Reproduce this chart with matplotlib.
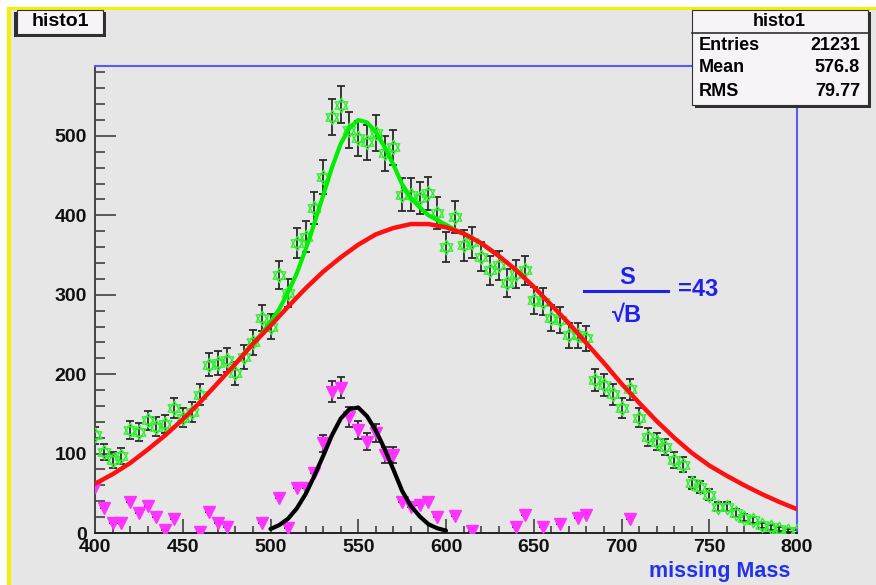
import numpy as np
import matplotlib
matplotlib.use('Agg')
import matplotlib.pyplot as plt
from matplotlib.path import Path
from matplotlib.patches import Rectangle
from matplotlib.lines import Line2D

plt.rcParams['font.family'] = ['Liberation Sans', 'DejaVu Sans']
plt.rcParams['font.weight'] = 'bold'

# histogram bins (width 5) and contents
bin_centers = np.arange(400, 801, 5)
data_counts = [123, 102, 92, 97, 130, 127, 142, 134, 137, 157,
               145, 152, 174, 212, 214, 218, 201, 222, 240, 271,
               260, 325, 302, 365, 373, 409, 448, 524, 539, 507,
               497, 492, 504, 478, 486, 426, 426, 422, 428, 403,
               360, 398, 362, 366, 348, 331, 337, 315, 326, 331,
               293, 291, 271, 268, 249, 249, 245, 193, 186, 175,
               157, 181, 145, 121, 115, 108, 92, 86, 63, 58,
               48, 33, 33, 25, 19, 16, 10, 7, 5, 3,
               2]
nan = np.nan
signal_counts = [58, 31, 13, 12, 39, 25, 34, 20, 4, 18,
                 nan, nan, 1, 26, 13, 8, nan, nan, nan, 12,
                 nan, 44, 6, 57, 57, 75, 113, 178, 183, 146,
                 130, 115, 126, 98, 98, 39, 33, 35, 39, 20,
                 nan, 21, nan, 3, nan, nan, nan, nan, 8, 23,
                 nan, 8, nan, 11, nan, 19, 23, nan, nan, nan,
                 nan, 18, nan, nan, nan, nan, nan, nan, nan, nan,
                 nan, nan, nan, nan, nan, nan, nan, nan, nan, nan,
                 nan]

# fit curves
bkg_x = np.arange(400, 801, 10)
bkg_y = [62, 74, 88, 105, 123, 143, 165, 189, 213, 238,
         261, 285, 308, 329, 347, 363, 376, 384, 389, 389,
         385, 377, 365, 349, 331, 310, 287, 264, 239, 214,
         188, 164, 141, 120, 101, 85, 72, 60, 49, 39, 30]
sig_x = np.arange(500, 601, 5)
sig_y = [5, 10, 18, 31, 49, 72, 97, 123, 144, 156, 158,
         147, 129, 106, 80, 53, 34, 21, 11, 6, 3]
tot_x = np.arange(480, 631, 5)
tot_y = [213, 226, 239, 251, 266, 282, 303, 327, 357, 390,
         425, 460, 490, 510, 520, 517, 505, 486, 464, 439,
         422, 410, 400, 394, 388, 382, 377, 371, 365, 357, 349]

stats = [('Entries', '21231'), ('Mean', '576.8'), ('RMS', '79.77')]

W, H = 876, 585
def fx(px):
    return px / W
def fy(py):
    return 1 - py / H

fig = plt.figure(figsize=(8.76, 5.85), dpi=100, facecolor='white')
# canvas: yellow highlight frame + grey pad
fig.patches.append(Rectangle((fx(7), 0), 1, fy(7), transform=fig.transFigure,
                             facecolor='#f5f000', edgecolor='none', zorder=-3))
fig.patches.append(Rectangle((fx(11), 0), 1, fy(10), transform=fig.transFigure,
                             facecolor='#e6e6e6', edgecolor='none', zorder=-2))

ax = fig.add_axes([fx(95), fy(533), fx(797) - fx(95), fy(66) - fy(533)])
ax.set_facecolor('#e6e6e6')

# open star of David marker
star = Path([(0, 1), (-0.866, -0.5), (0.866, -0.5), (0, 1),
             (0, -1), (-0.866, 0.5), (0.866, 0.5), (0, -1)],
            [Path.MOVETO, Path.LINETO, Path.LINETO, Path.CLOSEPOLY,
             Path.MOVETO, Path.LINETO, Path.LINETO, Path.CLOSEPOLY])

data = np.array(data_counts, dtype=float)
sig = np.array(signal_counts, dtype=float)
ax.errorbar(bin_centers, data, yerr=np.sqrt(data), fmt='none', ecolor='#2a2a2a',
            elinewidth=1.3, capsize=2.6, capthick=1.3, zorder=2)
ax.plot(bin_centers, data, linestyle='none', marker=star, markersize=10.5,
        markerfacecolor='none', markeredgecolor='#33f033', markeredgewidth=1.0, zorder=3)

sig_err = np.where(sig >= 95, np.sqrt(np.nan_to_num(sig)), 0)
ax.errorbar(bin_centers, sig, yerr=sig_err, fmt='none', ecolor='#2a2a2a',
            elinewidth=1.3, capsize=2.6, capthick=1.3, zorder=2)
ax.plot(bin_centers, sig, linestyle='none', marker='v', markersize=8,
        color='#ff33ff', zorder=3)

ax.plot(tot_x, tot_y, color='#00ee00', lw=3, zorder=4, solid_capstyle='round')
ax.plot(bkg_x, bkg_y, color='#ff1010', lw=3.2, zorder=5, solid_capstyle='round')
ax.plot(sig_x, sig_y, color='black', lw=3, zorder=6, solid_capstyle='round')

ax.set_xlim(400, 800)
ax.set_ylim(0, 588)
ax.set_xticks(np.arange(400, 801, 50))
ax.set_xticks(np.arange(400, 801, 10), minor=True)
ax.set_yticks(np.arange(0, 501, 100))
ax.set_yticks(np.arange(0, 581, 20), minor=True)
ax.tick_params(axis='both', which='both', direction='in', color='#333333', width=1.1)
ax.tick_params(axis='y', which='major', length=15, pad=6, labelsize=14)
ax.tick_params(axis='y', which='minor', length=7)
ax.tick_params(axis='x', which='major', length=10, pad=4, labelsize=14)
ax.tick_params(axis='x', which='minor', length=5)
for lab in ax.get_xticklabels() + ax.get_yticklabels():
    lab.set_fontweight('bold')
    lab.set_color('#111111')
ax.spines['left'].set_color('#444444')
ax.spines['bottom'].set_color('#222222')
ax.spines['left'].set_linewidth(1.4)
ax.spines['bottom'].set_linewidth(1.4)
for s in ('top', 'right'):
    ax.spines[s].set_color('#5a5af5')
    ax.spines[s].set_linewidth(1.5)

fig.text(fx(790), fy(572), 'missing Mass', color='#2233ee', fontsize=15.5,
         fontweight='bold', ha='right', va='center')

# S / sqrt(B) annotation
blue = '#2020ee'
fig.text(fx(627), fy(278), 'S', color=blue, fontsize=17, fontweight='bold',
         ha='center', va='center')
fig.lines.append(Line2D([fx(584), fx(668)], [fy(291), fy(291)], transform=fig.transFigure,
                        color=blue, lw=2.2))
fig.text(fx(627), fy(315), '\u221aB', color=blue, fontsize=17, fontweight='bold',
         ha='center', va='center')
fig.text(fx(678), fy(290), '=43', color=blue, fontsize=17, fontweight='bold',
         ha='left', va='center')

# title box
fig.patches.append(Rectangle((fx(14), fy(37)), fx(106) - fx(14), fy(12) - fy(37),
                             transform=fig.transFigure, facecolor='#303030',
                             edgecolor='none', zorder=5))
fig.patches.append(Rectangle((fx(17), fy(34)), fx(103) - fx(17), fy(10) - fy(34),
                             transform=fig.transFigure, facecolor='#f6f4f6',
                             edgecolor='#303030', lw=0.8, zorder=6))
fig.text(fx(60), fy(22), 'histo1', fontsize=14, fontweight='bold', ha='center',
         va='center', zorder=7)

# stats box
fig.patches.append(Rectangle((fx(695), fy(108)), fx(871) - fx(695), fy(12) - fy(108),
                             transform=fig.transFigure, facecolor='#303030',
                             edgecolor='none', zorder=5))
fig.patches.append(Rectangle((fx(692), fy(105)), fx(868) - fx(692), fy(10) - fy(105),
                             transform=fig.transFigure, facecolor='#f6f4f6',
                             edgecolor='#303030', lw=0.8, zorder=6))
fig.lines.append(Line2D([fx(692), fx(868)], [fy(33), fy(33)], transform=fig.transFigure,
                        color='#303030', lw=1.2, zorder=7))
fig.text(fx(779), fy(22), 'histo1', fontsize=13, fontweight='bold', ha='center',
         va='center', zorder=7)
for i, (name, val) in enumerate(stats):
    yy = 45 + 23 * i
    fig.text(fx(699), fy(yy), name, fontsize=13, fontweight='bold', ha='left',
             va='center', zorder=7)
    fig.text(fx(860), fy(yy), val, fontsize=13, fontweight='bold', ha='right',
             va='center', zorder=7)

fig.savefig('out.png', dpi=100, facecolor='white')
